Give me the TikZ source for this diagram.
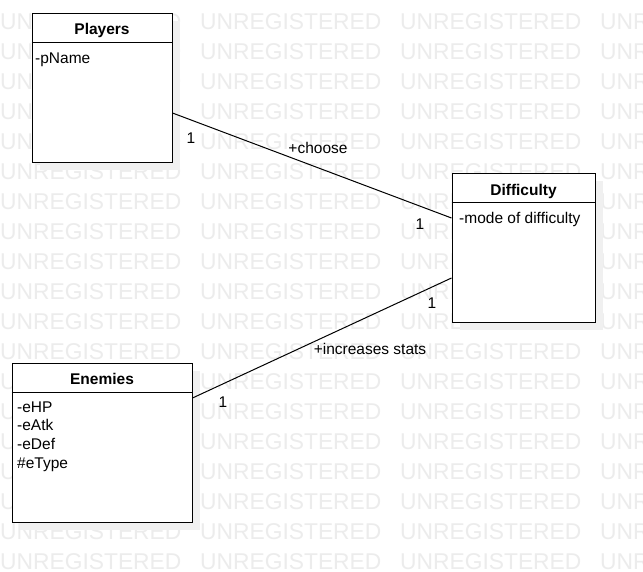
\documentclass[tikz,border=0pt]{standalone}
\usepackage{fontspec}
\setmainfont{Liberation Sans}
\usetikzlibrary{shadows}
\definecolor{wmgray}{RGB}{236,236,236}
\definecolor{shadowgray}{RGB}{240,240,240}
\begin{document}
\begin{tikzpicture}[x=1pt,y=-1pt,
  wm/.style={anchor=base west, inner sep=0pt, text=wmgray, font=\fontsize{22.8}{22.8}\selectfont},
  classbox/.style={draw=black, line width=1pt, fill=white, inner sep=0pt,
    drop shadow={shadow xshift=8pt, shadow yshift=-8pt, fill=shadowgray, opacity=1}},
  hdr/.style={draw=black, line width=1pt},
  titletext/.style={anchor=base, inner sep=0pt, font=\bfseries\fontsize{15.5}{15.5}\selectfont},
  attr/.style={anchor=base west, inner sep=0pt, font=\fontsize{15.5}{15.5}\selectfont},
  lbl/.style={anchor=base, inner sep=0pt, font=\fontsize{15.5}{15.5}\selectfont},
  conn/.style={draw=black, line width=1pt}]
\useasboundingbox (0,0) rectangle (643,571);
\fill[white] (0,0) rectangle (643,571);
% watermark
\foreach \r in {0,...,18}{
  \foreach \c in {0,...,3}{
    \node[wm] (wm-\r-\c) at (200*\c, 29+30*\r) {UNREGISTERED};
  }
}
% Players
\node[classbox, minimum width=140pt, minimum height=149pt] (players) at (102,87.5) {};
\draw[hdr] ([yshift=-30pt]players.north west) -- ([yshift=-30pt]players.north east);
\node[titletext] (players-title) at (102,34) {Players};
\node[attr] (players-attr) at (35,63) {-pName};
% Difficulty
\node[classbox, minimum width=143pt, minimum height=149pt] (diff) at (523.5,247.5) {};
\draw[hdr] ([yshift=-30pt]diff.north west) -- ([yshift=-30pt]diff.north east);
\node[titletext] (diff-title) at (523.5,195) {Difficulty};
\node[attr] (diff-attr) at (459,223) {-mode of difficulty};
% Enemies
\node[classbox, minimum width=180pt, minimum height=159pt] (enemies) at (102,442.5) {};
\draw[hdr] ([yshift=-30pt]enemies.north west) -- ([yshift=-30pt]enemies.north east);
\node[titletext] (enemies-title) at (102,384) {Enemies};
\node[attr] (enemies-a1) at (17,412) {-eHP};
\node[attr] (enemies-a2) at (17,430.7) {-eAtk};
\node[attr] (enemies-a3) at (17,449.4) {-eDef};
\node[attr] (enemies-a4) at (17,468.1) {\#eType};
% connectors
\draw[conn] ([yshift=-25.5pt]players.east) -- ([yshift=29.5pt]diff.west);
\draw[conn] ([yshift=44.5pt]enemies.east) -- ([yshift=-30.5pt]diff.west);
% labels
\node[lbl] (m1) at (191,143) {1};
\node[lbl] (choose) at (318,153) {+choose};
\node[lbl] (m2) at (420,229) {1};
\node[lbl] (m3) at (432,308) {1};
\node[lbl] (incr) at (370,354) {+increases stats};
\node[lbl] (m4) at (223,407) {1};
\end{tikzpicture}
\end{document}
